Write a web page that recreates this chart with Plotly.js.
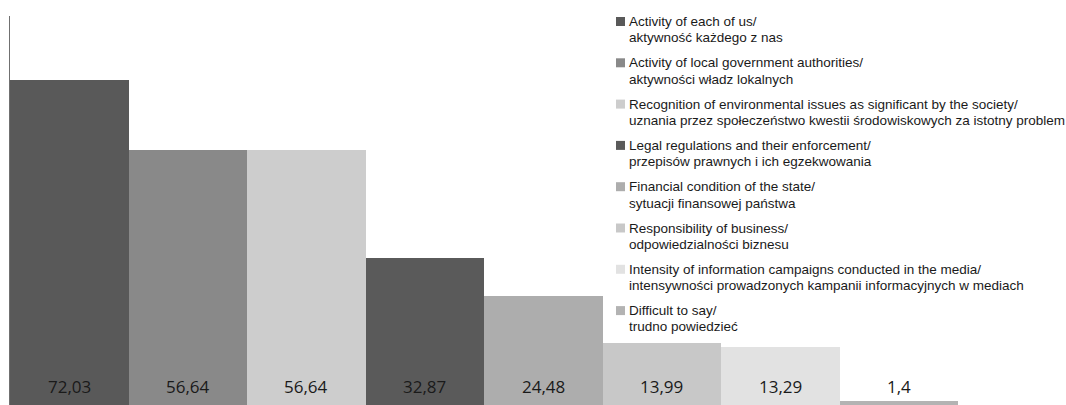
<!DOCTYPE html>
<html>
<head>
<meta charset="utf-8">
<script src="https://cdn.plot.ly/plotly-3.0.1.min.js"></script>
<style>
  html, body { margin: 0; padding: 0; background: #ffffff; }
  #chart { width: 1066px; height: 405px; }
</style>
</head>
<body>
<div id="chart"></div>
<script>
// Category names (English / Polish)
const categoryEn = [
  "Activity of each of us/",
  "Activity of local government authorities/",
  "Recognition of environmental issues as significant by the society/",
  "Legal regulations and their enforcement/",
  "Financial condition of the state/",
  "Responsibility of business/",
  "Intensity of information campaigns conducted in the media/",
  "Difficult to say/"
];
const categoryPl = [
  "aktywność każdego z nas",
  "aktywności władz lokalnych",
  "uznania przez społeczeństwo kwestii środowiskowych za istotny problem",
  "przepisów prawnych i ich egzekwowania",
  "sytuacji finansowej państwa",
  "odpowiedzialności biznesu",
  "intensywności prowadzonych kampanii informacyjnych w mediach",
  "trudno powiedzieć"
];
// Share of answers, %
const values = [72.03, 56.64, 56.64, 32.87, 24.48, 13.99, 13.29, 1.4];
const barColors = ["#595959", "#898989", "#cdcdcd", "#5a5a5a", "#adadad", "#c8c8c8", "#e2e2e2", "#b3b3b3"];

const W = 1066, H = 405;
const M = { l: 10, r: 108, t: 16, b: 0 };
const plotW = W - M.l - M.r, plotH = H - M.t - M.b;
const px2x = px => (px - M.l) / plotW;
const px2y = py => (H - M.b - py) / plotH;

const LABEL_FONT = "Open Sans, Liberation Sans, sans-serif";
const LEGEND_FONT = "Liberation Sans, Arial, sans-serif";

const bars = {
  type: "bar",
  x: categoryEn.map((c, i) => i),
  y: values,
  marker: { color: barColors, line: { width: 0 } },
  hovertext: categoryEn.map((c, i) => c + " " + categoryPl[i]),
  hoverinfo: "text+y",
  showlegend: false
};

const annotations = [];
const shapes = [];

// Value labels near the bottom of each bar
values.forEach((v, i) => {
  annotations.push({
    x: i, y: 4.6, xref: "x", yref: "y",
    text: String(v).replace(".", ","),
    showarrow: false, xanchor: "center", yanchor: "middle",
    font: { family: LABEL_FONT, size: 17, color: "#1a1a1a" }
  });
});

// Legend: colour square and two text lines per category
const legX = 616, legTop = 21.5, legStep = 41.3, lineGap = 16.3, sq = 9;
categoryEn.forEach((name, i) => {
  const cy = legTop + i * legStep;
  shapes.push({
    type: "rect", xref: "paper", yref: "paper",
    x0: px2x(legX), x1: px2x(legX + sq),
    y0: px2y(cy + sq / 2), y1: px2y(cy - sq / 2),
    fillcolor: barColors[i], line: { width: 0 }
  });
  annotations.push({
    x: px2x(legX + 11), y: px2y(cy), xref: "paper", yref: "paper",
    text: name, showarrow: false, xanchor: "left", yanchor: "middle",
    font: { family: LEGEND_FONT, size: 13.5, color: "#1a1a1a" }
  });
  annotations.push({
    x: px2x(legX + 11), y: px2y(cy + lineGap), xref: "paper", yref: "paper",
    text: categoryPl[i], showarrow: false, xanchor: "left", yanchor: "middle",
    font: { family: LEGEND_FONT, size: 13.5, color: "#1a1a1a" }
  });
});

const layout = {
  width: W, height: H,
  margin: M,
  paper_bgcolor: "#ffffff",
  plot_bgcolor: "#ffffff",
  bargap: 0,
  showlegend: false,
  xaxis: {
    range: [-0.5, 7.5],
    showticklabels: false, ticks: "", showgrid: false, zeroline: false, showline: false
  },
  yaxis: {
    range: [0.44, 86.12],
    showticklabels: false, ticks: "", showgrid: false, zeroline: false,
    showline: true, linecolor: "#707070", linewidth: 1.5
  },
  annotations: annotations,
  shapes: shapes
};

Plotly.newPlot("chart", [bars], layout, { displayModeBar: false, staticPlot: true });
</script>
</body>
</html>
